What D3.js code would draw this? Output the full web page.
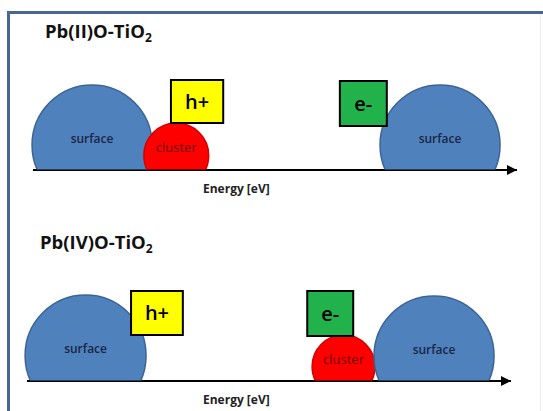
<!DOCTYPE html>
<html><head><meta charset="utf-8">
<script src="https://cdn.jsdelivr.net/npm/d3@7"></script>
<style>html,body{margin:0;padding:0;background:#fff;}svg{display:block;}</style>
</head><body>
<script>
// ---- data ----
const panelTitles = ["Pb(II)O-TiO", "Pb(IV)O-TiO"];
const axisLabel = "Energy [eV]";
// circles per panel: [label, kind, centerEnergy, radiusEnergy, topHeight]
const circlesTop = [
  ["surface", "surface", 12.2, 12.4, 85],
  ["cluster", "cluster", 29.6, 6.7, 47],
  ["surface", "surface", 84.1, 12.4, 85]
];
const circlesBottom = [
  ["surface", "surface", 12.1, 12.5, 86],
  ["cluster", "cluster", 65.4, 6.5, 46],
  ["surface", "surface", 84.1, 12.4, 85]
];
// carrier boxes: [label, energyStart, energyEnd, topHeight, bottomHeight]
const boxesTop = [
  ["h+", 28.5, 39.3, 90, 47],
  ["e-", 63.4, 73.1, 89, 44]
];
const boxesBottom = [
  ["h+", 21.5, 32.2, 90, 46],
  ["e-", 57.9, 67.4, 90, 45]
];

// ---- layout ----
const W = 543, H = 411;
const panels = [
  {title: panelTitles[0], circles: circlesTop, boxes: boxesTop, x0: 33, base: 170, titleX: 45, labelX: 203},
  {title: panelTitles[1], circles: circlesBottom, boxes: boxesBottom, x0: 27, base: 381, titleX: 40, labelX: 203}
];
const styles = {
  surface: {fill: "#4f81bd", stroke: "#3b6494", text: "#1a2646"},
  cluster: {fill: "#ff0000", stroke: "#d40000", text: "#6a0000"},
  "h+": {fill: "#ffff00"},
  "e-": {fill: "#22b24c"}
};
const font = "'Open Sans', Lato, sans-serif";

const svg = d3.select("body").append("svg").attr("width", W).attr("height", H);
svg.append("rect").attr("width", W).attr("height", H).attr("fill", "#fff");

// frame
svg.append("line").attr("x1", 8.5).attr("x2", 8.5).attr("y1", 11).attr("y2", H).attr("stroke", "#4a6599").attr("stroke-width", 3);
svg.append("line").attr("x1", 7).attr("x2", W).attr("y1", 12.5).attr("y2", 12.5).attr("stroke", "#4a6599").attr("stroke-width", 3);
svg.append("line").attr("x1", 540.5).attr("x2", 540.5).attr("y1", 14).attr("y2", H).attr("stroke", "#ececec").attr("stroke-width", 1);

svg.append("defs").append("marker")
  .attr("id", "arrow").attr("viewBox", "0 0 10 10").attr("refX", 10).attr("refY", 5)
  .attr("markerWidth", 5).attr("markerHeight", 5).attr("markerUnits", "strokeWidth").attr("orient", "auto")
  .append("path").attr("d", "M0,0 L10,5 L0,10 Z").attr("fill", "#000");

const x = d3.scaleLinear().domain([0, 100]).range([0, 484]);
const y = d3.scaleLinear().domain([0, 100]).range([0, -100]); // height above baseline

panels.forEach((p, i) => {
  const g = svg.append("g");
  const gx = g.append("g").attr("transform", `translate(${p.x0},${p.base})`);
  const clipId = "clip" + i;
  svg.select("defs").append("clipPath").attr("id", clipId)
    .append("rect").attr("x", p.x0 - 20).attr("y", 0).attr("width", 530).attr("height", p.base - 0.5);

  // title
  const t = g.append("text").attr("x", p.titleX).attr("y", p.base - 132)
    .attr("font-family", font).attr("font-weight", 700).attr("font-size", 18.5).attr("fill", "#111");
  t.append("tspan").text(p.title);
  t.append("tspan").attr("font-size", 12).attr("dy", 4).text("2");

  // circles
  const cg = g.append("g").attr("clip-path", `url(#${clipId})`);
  p.circles.forEach(c => {
    const [label, kind, ce, re, h] = c;
    const rpx = x(re);
    const cx = p.x0 + x(ce);
    const cy = p.base + y(h) + rpx;
    cg.append("circle").attr("cx", cx).attr("cy", cy).attr("r", rpx)
      .attr("fill", styles[kind].fill).attr("stroke", styles[kind].stroke).attr("stroke-width", 1.5);
  });
  p.circles.forEach(c => {
    const [label, kind, ce, re, h] = c;
    const cx = p.x0 + x(ce);
    const ty = kind === "cluster" ? p.base + y(h) + 29 : p.base + y(h) + 57.5;
    g.append("text").attr("x", cx).attr("y", ty).attr("text-anchor", "middle")
      .attr("font-family", font).attr("font-weight", kind === "cluster" ? 500 : 600)
      .attr("font-size", kind === "cluster" ? 13 : 12)
      .attr("fill", styles[kind].text).text(label);
  });

  // boxes
  p.boxes.forEach(b => {
    const [label, e0, e1, top, bot] = b;
    const bx = p.x0 + x(e0), bw = x(e1) - x(e0);
    const by = p.base + y(top), bh = y(bot) - y(top);
    g.append("rect").attr("x", bx).attr("y", by).attr("width", bw).attr("height", bh)
      .attr("fill", styles[label].fill).attr("stroke", "#000").attr("stroke-width", 2);
    g.append("text").attr("x", bx + bw / 2).attr("y", by + bh / 2 + 7).attr("text-anchor", "middle")
      .attr("font-family", font).attr("font-weight", 600).attr("font-size", 20).attr("fill", "#000").text(label);
  });

  // axis
  gx.append("line").attr("x1", x(0)).attr("x2", x(100)).attr("y1", 0).attr("y2", 0)
    .attr("stroke", "#000").attr("stroke-width", 2).attr("marker-end", "url(#arrow)");
  g.append("text").attr("x", p.labelX).attr("y", p.base + 23)
    .attr("font-family", font).attr("font-weight", 700).attr("font-size", 12).attr("fill", "#222").text(axisLabel);
});
</script>
</body></html>
